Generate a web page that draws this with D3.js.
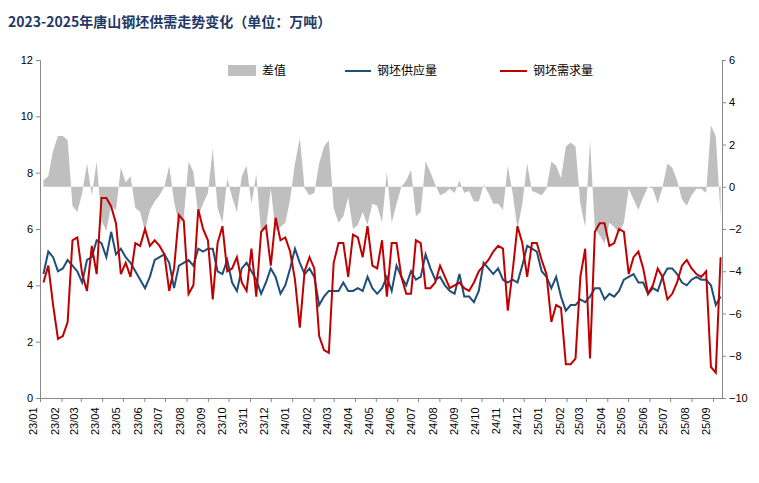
<!DOCTYPE html>
<html><head><meta charset="utf-8">
<script src="https://cdn.jsdelivr.net/npm/d3@7"></script>
<style>body{margin:0;background:#fff;font-family:"Noto Sans CJK SC","Noto Sans",sans-serif}</style>
</head><body><svg id="c" width="759" height="483"></svg>
<script>
const supply = [4.4,5.2,5.0,4.5, 4.6,4.9,4.7,4.5, 4.1,4.9,5.0,5.6,5.5, 5.0,5.9,5.1,5.3, 5.0,4.8,4.5,4.2, 3.9,4.3,4.9,5.0,5.1, 4.8,3.9,4.7,4.8, 4.9,4.7,5.3,5.2, 5.3,5.3,4.5,4.4,4.9, 4.1,3.8,4.6,4.8, 4.5,4.2,3.7,4.1, 4.6,4.3,3.7,4.0,4.6,
 5.3,4.8,4.4,4.6, 4.3,3.3,3.6,3.8, 3.8,3.8,4.1,3.8,3.8, 3.9,3.8,4.3,3.9, 3.7,3.9,4.3,3.8,4.7, 4.3,4.0,4.5,4.2, 4.3,5.1,4.6,4.2, 4.3,4.0,3.8,3.7,4.4, 3.6,3.6,3.4,3.8, 4.8,4.6,4.4,4.6, 4.2,4.1,4.2,4.1,4.7, 5.4,5.3,5.2,4.5,
 4.3,3.9,4.3,3.6,3.1, 3.3,3.3,3.5,3.4, 3.6,3.9,3.9,3.5, 3.7,3.6,3.8,4.2, 4.3,4.4,4.1,4.1,3.7, 3.9,3.8,4.3,4.6, 4.6,4.4,4.1,4.0, 4.2,4.3,4.2,4.2,4.0, 3.3,3.6];
const demand = [4.1,4.7,3.3,2.1, 2.2,2.7,5.6,5.7, 4.4,3.8,5.4,4.4,7.1, 7.1,6.8,6.2,4.4, 4.8,4.3,5.5,5.4, 6.0,5.4,5.6,5.4,5.1, 3.8,4.6,6.5,6.3, 3.7,4.0,6.7,6.0, 5.6,3.5,5.5,6.1,4.5, 4.6,5.0,4.1,3.8, 5.3,3.6,5.9,6.1, 4.7,6.4,5.6,5.7,5.2,
 4.2,2.5,4.5,5.0, 4.6,2.2,1.7,1.6, 4.8,5.5,5.5,4.3,5.8, 5.7,5.0,6.1,4.7, 4.6,5.6,3.6,5.5,5.5, 4.3,3.7,3.7,5.6, 5.5,3.9,3.9,4.1, 4.7,4.3,3.9,4.0,4.1, 3.9,3.8,4.1,4.5, 4.7,4.9,5.2,5.4, 5.3,3.1,4.5,6.1,5.5, 4.3,5.5,5.5,4.9,
 4.4,2.7,3.3,3.2,1.2, 1.2,1.4,4.3,5.3, 1.4,5.9,6.2,6.2, 5.4,5.5,6.0,5.9, 4.4,5.0,5.2,4.6,3.7, 4.0,4.6,4.3,3.5, 3.7,4.1,4.7,4.9, 4.6,4.4,4.3,4.5,1.1, 0.9,5.0];
const leftTicks = [0,2,4,6,8,10,12];
const rightTicks = [-10,-8,-6,-4,-2,0,2,4,6];
const seriesNames = ["差值","钢坯供应量","钢坯需求量"];
const title = "2023-2025年唐山钢坯供需走势变化（单位：万吨）";

const n = Math.min(supply.length, demand.length);
const start = new Date(2023,0,6);
const dates = d3.range(n).map(i => d3.timeDay.offset(start, 7*i));
const diff = d3.range(n).map(i => supply[i]-demand[i]);

const svg = d3.select("#c");
const L=40,R=722,T=60,B=398;
const x = d3.scaleTime().domain([new Date(2023,0,1), new Date(2025,8,14)]).range([L,R]);
const yL = d3.scaleLinear().domain([0,12]).range([B,T]);
const yR = d3.scaleLinear().domain([-10,6]).range([B,T]);

svg.append("text").attr("x",8).attr("y",27).attr("font-size",14).attr("font-weight","bold").attr("fill","#1F3864").text(title);

svg.append("path").datum(d3.range(n)).attr("fill","#BFBFBF")
  .attr("d", d3.area().x(i=>x(dates[i])).y0(yR(0)).y1(i=>yR(diff[i])));
svg.append("path").datum(d3.range(n)).attr("fill","none").attr("stroke","#1F4E79").attr("stroke-width",2)
  .attr("d", d3.line().x(i=>x(dates[i])).y(i=>yL(supply[i])));
svg.append("path").datum(d3.range(n)).attr("fill","none").attr("stroke","#C00000").attr("stroke-width",2)
  .attr("d", d3.line().x(i=>x(dates[i])).y(i=>yL(demand[i])));

const ax = (g)=>{g.selectAll("text").attr("fill","#000").attr("font-size",11).attr("font-family","Liberation Sans, Arial");g.selectAll("path,line").attr("stroke","#888");};
svg.append("g").attr("transform",`translate(${L},0)`).call(d3.axisLeft(yL).tickValues(leftTicks).tickSize(4)).call(ax);
svg.append("g").attr("transform",`translate(${R},0)`).call(d3.axisRight(yR).tickValues(rightTicks).tickSize(4)).call(ax);
const months = d3.timeMonth.range(new Date(2023,0,1), new Date(2025,8,2));
const xg = svg.append("g").attr("transform",`translate(0,${B})`)
  .call(d3.axisBottom(x).tickValues(months).tickFormat(d3.timeFormat("%y/%m")).tickSize(4).tickSizeOuter(0)).call(ax);
xg.selectAll("text").attr("transform","rotate(-90)").attr("text-anchor","end").attr("dx","-0.5em").attr("dy","-0.3em").attr("y",0).attr("x",-4);

const lg = svg.append("g").attr("font-size",12).attr("fill","#000");
lg.append("rect").attr("x",228).attr("y",65).attr("width",28).attr("height",11).attr("fill","#BFBFBF");
lg.append("text").attr("x",262).attr("y",75).text(seriesNames[0]);
lg.append("line").attr("x1",345).attr("x2",371).attr("y1",71).attr("y2",71).attr("stroke","#1F4E79").attr("stroke-width",2);
lg.append("text").attr("x",377).attr("y",75).text(seriesNames[1]);
lg.append("line").attr("x1",500).attr("x2",527).attr("y1",71).attr("y2",71).attr("stroke","#C00000").attr("stroke-width",2);
lg.append("text").attr("x",533).attr("y",75).text(seriesNames[2]);
</script></body></html>
